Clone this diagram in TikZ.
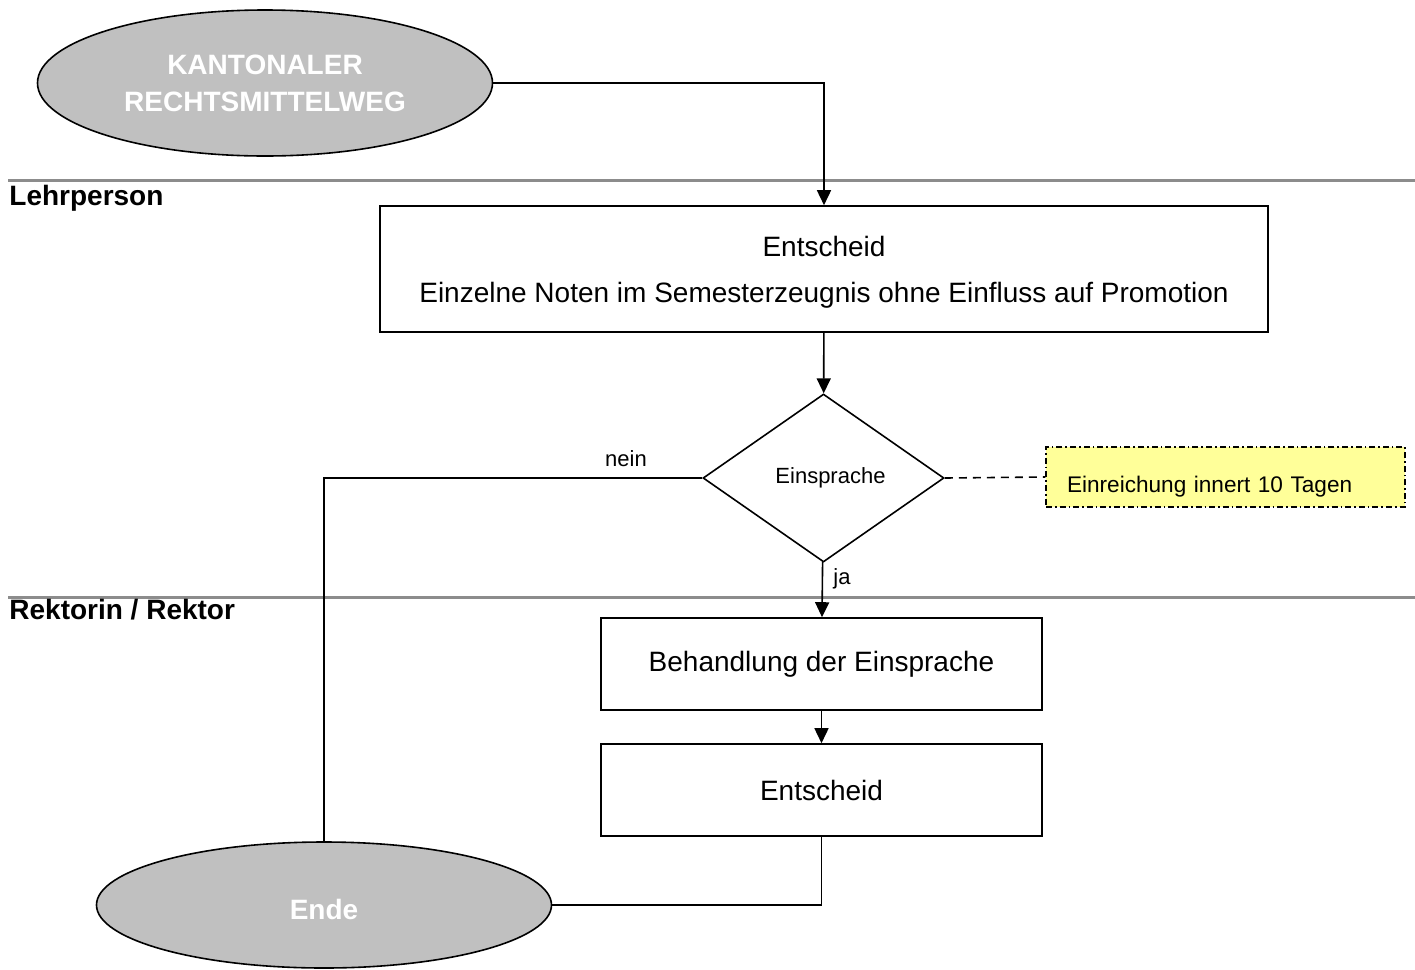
\documentclass[tikz,border=0pt]{standalone}
\usepackage{fontspec}
\setmainfont{Liberation Sans}
\usepackage{xcolor}
\usepackage{tikz}
\usetikzlibrary{shapes.geometric,arrows.meta}

\definecolor{termgray}{HTML}{C0C0C0}
\definecolor{lanegray}{HTML}{8C8C8C}
\definecolor{noteyellow}{HTML}{FFFF99}

\begin{document}
\begin{tikzpicture}[x=0.5pt,y=-0.5pt,
  every node/.style={font=\fontsize{14}{17}\selectfont},
  term/.style={ellipse,draw,line width=0.8pt,fill=termgray,text=white,
    font=\fontsize{14}{17}\selectfont\bfseries,align=center,
    minimum width=227.5pt,inner sep=0pt},
  box/.style={rectangle,draw,line width=0.8pt,align=center,inner sep=0pt},
  small/.style={font=\fontsize{11}{13}\selectfont},
  lanetext/.style={anchor=base west,inner sep=0pt,font=\fontsize{14}{17}\selectfont\bfseries},
  flow/.style={line width=0.8pt,-{Triangle[length=7.5pt,width=7pt]}},
  lane/.style={lanegray,line width=1.5pt}]
\useasboundingbox (0,0) rectangle (1415,970);

% lanes
\draw[lane] (8,180)--(1415,180);
\draw[lane] (8,597)--(1415,597);
\node[lanetext] (lehrer) at (9,205) {Lehrperson};
\node[lanetext] (rektor) at (9,619) {Rektorin / Rektor};

% shapes
\node[term,minimum height=73pt] (start) at (265,83)
  {\raisebox{-1.5pt}[\height][\depth]{\begin{tabular}{@{}c@{}}KANTONALER\\[1.5pt]RECHTSMITTELWEG\end{tabular}}};
\node[box,minimum width=444pt,minimum height=63pt] (entscheidA) at (824,269)
  {\raisebox{-2pt}[\height][\depth]{\begin{tabular}{@{}c@{}}Entscheid\\[6pt]Einzelne Noten im Semesterzeugnis ohne Einfluss auf Promotion\end{tabular}}};
\node[diamond,draw,line width=0.8pt,small,inner sep=0pt,
  minimum width=120.5pt,minimum height=84pt] (einsprache) at (823.5,478) {\hspace{7pt}Einsprache};
\node[rectangle,draw,line width=0.7pt,fill=noteyellow,font=\fontsize{11.3}{13}\selectfont,
  dash pattern=on 3pt off 1.5pt on 0.8pt off 1.5pt,
  minimum width=179.5pt,minimum height=30pt,inner xsep=10.5pt,
  text width=158.5pt,align=left,text height=15pt,text depth=0pt] (frist) at (1225.5,477) {Einreichung innert 10 Tagen};
\node[box,minimum width=220.5pt,minimum height=46pt] (behandlung) at (821.5,664) {Behandlung der Einsprache};
\node[box,minimum width=220.5pt,minimum height=46pt] (entscheidB) at (821.5,790) {Entscheid};
\node[term,minimum height=63pt,text height=14pt,text depth=0pt] (ende) at (324,905) {Ende};

% connectors
\draw[flow] (start.east) -| (entscheidA.north);
\draw[flow] (entscheidA) -- (einsprache);
\draw[line width=0.8pt] (einsprache.west) -| (ende.north);
\node[small,anchor=base] (nein) at (626,466) {nein};
\draw[flow] (einsprache) -- (behandlung);
\node[small,anchor=base west,inner sep=0pt] (ja) at (833,584) {ja};
\draw[line width=0.8pt,dash pattern=on 4pt off 3pt] (einsprache.east) -- (frist.west);
\draw[flow] (behandlung) -- (entscheidB);
\draw[line width=0.8pt] (entscheidB.south) |- (ende.east);

\end{tikzpicture}
\end{document}
